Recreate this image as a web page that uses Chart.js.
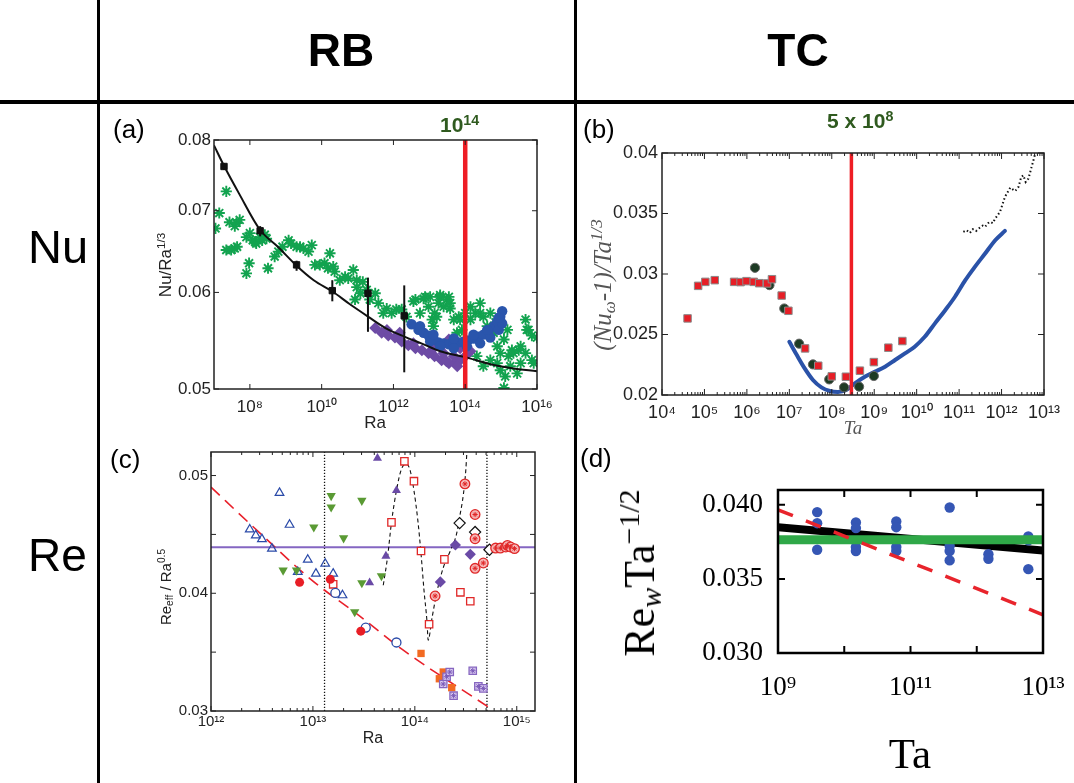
<!DOCTYPE html>
<html>
<head>
<meta charset="utf-8">
<script src="https://cdn.jsdelivr.net/npm/chart.js@4.4.1/dist/chart.umd.min.js"></script>
<style>
body { margin: 0; background: #fff; }
#page { position: relative; width: 1074px; height: 783px; overflow: hidden; background: #fff; font-family: "Liberation Sans", Arial, sans-serif; }
canvas { position: absolute; left: 0; top: 0; }
.t { position: absolute; white-space: nowrap; line-height: 1; color: #000; }
.c { transform: translateX(-50%); }
.rot { transform: translate(-50%, -50%) rotate(-90deg); }
.rule { position: absolute; background: #000; }
.serif { font-family: "Liberation Serif", "Times New Roman", serif; }
sup { font-size: 0.68em; vertical-align: 0.5em; line-height: 0; }
sub { font-size: 0.68em; vertical-align: -0.25em; line-height: 0; }
.mark { font-weight: bold; color: #2f5a1f; font-size: 21px; }
</style>
</head>
<body>
<div id="page">
  <div class="rule" style="left:97px;top:0;width:3px;height:783px"></div>
  <div class="rule" style="left:574px;top:0;width:3px;height:783px"></div>
  <div class="rule" style="left:0;top:100px;width:1074px;height:4px"></div>

  <canvas id="chartA" width="1074" height="783"></canvas>
  <canvas id="chartB" width="1074" height="783"></canvas>
  <canvas id="chartC" width="1074" height="783"></canvas>
  <canvas id="chartD" width="1074" height="783"></canvas>

  <div class="t c" style="left:341px;top:27px;font-size:46px;font-weight:bold">RB</div>
  <div class="t c" style="left:798px;top:27px;font-size:46px;font-weight:bold">TC</div>
  <div class="t" style="left:28px;top:223px;font-size:47px">Nu</div>
  <div class="t" style="left:28px;top:532px;font-size:46px">Re</div>

  <div class="t" style="left:113px;top:116px;font-size:26px">(a)</div>
  <div class="t" style="left:583px;top:116px;font-size:26px">(b)</div>
  <div class="t" style="left:110px;top:446px;font-size:26px">(c)</div>
  <div class="t" style="left:580px;top:445px;font-size:26px">(d)</div>

  <div class="t mark" style="left:440px;top:114px">10<sup>14</sup></div>
  <div class="t mark" style="left:827px;top:110px">5 x 10<sup>8</sup></div>

  <div class="t rot" style="left:165px;top:265px;font-size:17px;color:#222">Nu/Ra<sup>1/3</sup></div>
  <div class="t c" style="left:375px;top:414px;font-size:17px;color:#222">Ra</div>

  <div class="t rot serif" style="left:602px;top:285px;font-size:25px;color:#555;font-style:italic">(Nu<sub>ω</sub>-1)/Ta<sup>1/3</sup></div>
  <div class="t c serif" style="left:853px;top:418px;font-size:19px;color:#555;font-style:italic">Ta</div>

  <div class="t rot" style="left:165px;top:587px;font-size:15px;color:#222">Re<sub>eff</sub> / Ra<sup>0.5</sup></div>
  <div class="t c" style="left:373px;top:730px;font-size:16px;color:#222">Ra</div>

  <div class="t rot serif" style="left:640px;top:573px;font-size:44px">Re<sub><i>w</i></sub>Ta<sup>−1/2</sup></div>
  <div class="t c serif" style="left:910px;top:732px;font-size:43px">Ta</div>
</div>

<script>
// ---------- (a) RB: Nu/Ra^(1/3) vs Ra ----------
const aXRange = [1e7, 1e16];
const aYRange = [0.05, 0.08];
const aXTicks = [1e8, 1e10, 1e12, 1e14, 1e16];
const aYTicks = [0.05, 0.06, 0.07, 0.08];
const aMarkRa = 1e14;

const aSqRa = [1.9e7, 1.93e8, 2.0e9, 1.98e10, 1.95e11, 2.0e12];
const aSqNu = [0.0761, 0.0674, 0.0632, 0.0602, 0.0599, 0.0574];
const aErrLo = [0.0756, 0.0667, 0.0625, 0.0590, 0.0557, 0.0516];
const aErrHi = [0.0766, 0.0680, 0.0637, 0.0614, 0.0617, 0.0608];

const aFitRa = [1e7, 1.9e7, 5e7, 1.93e8, 6e8, 2e9, 6e9, 2e10, 6e10, 2e11, 6e11, 2e12, 6e12, 2e13, 1e14, 5e14, 2e15, 1e16];
const aFitNu = [0.0792, 0.0762, 0.0723, 0.0675, 0.0654, 0.0631, 0.0614, 0.0601, 0.0587, 0.0573, 0.0561, 0.0552, 0.0545, 0.0537, 0.0531, 0.0524, 0.0520, 0.0517];

const aGreen = [
  [1.1e7,0.0677],[1.4e7,0.0697],[2.2e7,0.0726],[2.2e7,0.0650],[2.7e7,0.0685],[3.8e7,0.0680],[4.2e7,0.0684],
  [5.2e7,0.0688],[3.8e7,0.0652],[4.4e7,0.0654],[3.0e7,0.0650],[8.0e7,0.0666],[9.5e7,0.0634],[8.0e7,0.0622],
  [1.0e8,0.0671],[1.2e8,0.0662],[1.4e8,0.0660],[1.5e8,0.0658],[1.9e8,0.0666],[2.2e8,0.0662],[2.6e8,0.0669],
  [2.9e8,0.0664],[3.2e8,0.0628],[4.9e8,0.0642],[6.2e8,0.0648],[8.1e8,0.0654],[1.2e9,0.0662],[1.4e9,0.0658],
  [2.0e9,0.0654],[2.5e9,0.0654],[3.1e9,0.0652],[4.3e9,0.0648],[5.3e9,0.0656],[6.5e9,0.0632],[8.9e9,0.0632],
  [1.2e10,0.0634],[1.7e10,0.0646],[1.5e10,0.0628],[2.1e10,0.0630],[2.3e10,0.0624],[3.2e10,0.0614],[4.5e10,0.0618],
  [5.5e10,0.0616],[7.6e10,0.0626],[9.5e10,0.0614],[9.5e10,0.0606],[8.5e10,0.0592],[1.2e11,0.0599],[1.4e11,0.0612],
  [1.8e11,0.0603],[2.2e11,0.0592],[3.1e11,0.0599],[3.8e11,0.0588],[5.2e11,0.0577],[6.5e11,0.0582],[8.9e11,0.0577],
  [1.2e12,0.0581],[1.7e12,0.0581],[2.3e12,0.0573],[3.6e12,0.0590],[4.1e12,0.0592],[5.5e12,0.0577],[6.9e12,0.0593],
  [7.6e12,0.0595],[9.5e12,0.0584],[1.05e13,0.0595],[1.2e13,0.0570],[1.3e13,0.0563],[1.4e13,0.0577],[1.6e13,0.0573],
  [1.8e13,0.0588],[2.0e13,0.0595],[2.0e13,0.0597],[2.5e13,0.0584],[3.1e13,0.0592],[3.5e13,0.0595],[3.8e13,0.0588],
  [3.8e13,0.0582],[4.8e13,0.0570],[5.9e13,0.0556],[6.6e13,0.0573],[7.2e13,0.0570],[8.1e13,0.0559],[1.0e14,0.0577],
  [1.4e14,0.0584],[1.4e14,0.0570],[1.9e14,0.0577],[2.1e14,0.0532],[2.6e14,0.0588],[2.6e14,0.0577],[3.2e14,0.0573],
  [3.2e14,0.0522],[4.1e14,0.0563],[5.0e14,0.0577],[5.0e14,0.0528],[6.2e14,0.0556],[7.0e14,0.0567],[7.8e14,0.0542],
  [7.8e14,0.0525],[9.5e14,0.0535],[9.5e14,0.0518],[1.2e15,0.0549],[1.2e15,0.0501],[1.3e15,0.0512],[1.5e15,0.0559],
  [1.6e15,0.0532],[1.8e15,0.0522],[2.0e15,0.0538],[2.2e15,0.0535],[2.8e15,0.0515],[3.1e15,0.0538],[3.5e15,0.0542],
  [3.5e15,0.0525],[4.8e15,0.0570],[4.8e15,0.0535],[5.2e15,0.0559],[5.8e15,0.0559],[7.2e15,0.0553],[7.2e15,0.0528],
  [8.1e15,0.0525],[1.0e16,0.0551]
];
const aBlue = [
  [3.2e12,0.0565],[5.0e12,0.0559],[6.9e12,0.0556],[9.5e12,0.0553],[1.3e13,0.0549],[1.8e13,0.0546],[2.5e13,0.0545],
  [3.5e13,0.0544],[4.8e13,0.0545],[6.6e13,0.0546],[9.1e13,0.0547],[1.2e14,0.0548],[1.7e14,0.0550],[2.3e14,0.0552],
  [3.2e14,0.0554],[4.5e14,0.0558],[6.2e14,0.0563],[7.8e14,0.0568],[9.5e14,0.0573],[1.07e15,0.0579],[1.05e13,0.0547],
  [2.0e13,0.0542],[4.8e13,0.0540],[1.1e14,0.0542],[2.6e14,0.0545],[5.0e14,0.0551],[8.6e14,0.0559],[1.07e15,0.0566],
  [5.5e12,0.0563],[1.3e13,0.0554],[4.8e13,0.0550],[1.7e14,0.0554],[4.1e14,0.0559],[8.6e14,0.0572]
];
const aPurple = [
  [3.1e11,0.0561],[4.7e11,0.0556],[7.2e11,0.0553],[1.1e12,0.0551],[1.7e12,0.0547],[2.6e12,0.0543],[4.1e12,0.0540],
  [6.2e12,0.0538],[9.5e12,0.0535],[1.4e13,0.0532],[2.2e13,0.0528],[3.5e13,0.0525],[5.2e13,0.0525],[7.2e13,0.0528],
  [3.5e13,0.0549],[4.8e13,0.0545],[7.2e13,0.0540],[1.1e14,0.0542],[1.4e14,0.0537],[1.0e14,0.0532],[6.6e11,0.0559],
  [1.5e12,0.0556],[3.6e12,0.0545],[1.3e13,0.0540],[2.5e13,0.0535],[4.8e13,0.0532],[6.0e13,0.0522],[3.0e13,0.0527]
];

// ---------- (b) TC: (Nu_w-1)/Ta^(1/3) vs Ta ----------
const bXRange = [1e4, 1e13];
const bYRange = [0.02, 0.04];
const bXTicks = [1e4, 1e5, 1e6, 1e7, 1e8, 1e9, 1e10, 1e11, 1e12, 1e13];
const bYTicks = [0.02, 0.025, 0.03, 0.035, 0.04];
const bMarkTa = 2.9e8;

const bSqTa = [4.0e4, 7.1e4, 1.05e5, 1.75e5, 5.0e5, 7.1e5, 9.8e5, 1.45e6, 1.95e6, 3.0e6, 3.9e6, 6.6e6, 9.5e6, 2.35e7, 4.8e7, 1.0e8, 2.15e8, 4.6e8, 9.8e8, 2.15e9, 4.6e9];
const bSqNu = [0.02633, 0.02902, 0.02935, 0.02949, 0.02935, 0.02933, 0.02941, 0.02935, 0.02924, 0.02922, 0.02957, 0.02822, 0.02696, 0.02385, 0.02242, 0.02154, 0.02151, 0.02201, 0.02272, 0.02391, 0.02446];
const bCircTa = [1.55e6, 3.4e6, 7.6e6, 1.7e7, 3.6e7, 8.7e7, 1.95e8, 4.4e8, 9.8e8];
const bCircNu = [0.03051, 0.02908, 0.02715, 0.02424, 0.02253, 0.02129, 0.02063, 0.02069, 0.02157];
const bBlue = [
  [1.0e7,0.0244],[1.5e7,0.0233],[2.3e7,0.0222],[3.6e7,0.02124],[5.7e7,0.02063],[9.0e7,0.02033],[1.4e8,0.02025],
  [2.2e8,0.02041],[3.5e8,0.02096],[6.0e8,0.02151],[1.05e9,0.02193],[1.8e9,0.02234],[3.1e9,0.02289],[5.3e9,0.02344],
  [9.0e9,0.02399],[1.55e10,0.02481],[2.7e10,0.02592],[4.7e10,0.02701],[8.0e10,0.02812],[1.4e11,0.02949],
  [2.35e11,0.03059],[4.1e11,0.03169],[7.1e11,0.03279],[1.2e12,0.03356]
];
const bDots = [
  [1.26e11,0.03348],[1.5e11,0.03362],[1.8e11,0.03340],[2.1e11,0.03370],[2.5e11,0.03355],[3.1e11,0.03384],
  [3.6e11,0.03400],[4.1e11,0.03390],[4.8e11,0.03420],[5.4e11,0.03431],[6.2e11,0.03420],[7.1e11,0.03458],
  [9.2e11,0.03513],[1.2e12,0.03637],[1.6e12,0.03714],[2.1e12,0.03686],[2.5e12,0.03719],[2.9e12,0.03800],
  [3.25e12,0.03816],[3.7e12,0.03760],[4.3e12,0.03788],[5.1e12,0.03884],[6.2e12,0.03994]
];

// ---------- (c) RB: Re_eff/Ra^0.5 vs Ra ----------
const cXRange = [1e12, 1.51e15];
const cYRange = [0.03, 0.052];
const cXTicks = [1e12, 1e13, 1e14, 1e15];
const cYTicks = [0.03, 0.04, 0.05];
const cYMarks = [0.03, 0.035, 0.04, 0.045, 0.05];
const cDotRa = [1.3e13, 5.1e14];
const cLevel = 0.0439;

const cTriBlue = [[2.4e12,0.04542],[2.75e12,0.04492],[3.16e12,0.04460],[3.96e12,0.04379],[4.7e12,0.04853],[5.9e12,0.04582],[7.1e12,0.04181],[8.9e12,0.04285],[1.07e13,0.04167],[1.32e13,0.04251],[1.58e13,0.04167],[1.95e13,0.03983]];
const cTriGreen = [[5.1e12,0.04195],[6.9e12,0.04195],[1.02e13,0.04562],[1.51e13,0.04828],[1.51e13,0.04732],[2.0e13,0.04469],[2.57e13,0.03842],[3.02e13,0.04788],[3.02e13,0.04088],[4.7e13,0.04147]];
const cTriPurple = [[3.6e13,0.04090],[4.3e13,0.05147],[5.2e13,0.04316],[6.6e13,0.04873]];
const cDiaPurple = [[1.78e14,0.04096],[2.5e14,0.04410],[3.5e14,0.04331]];
const cDiaOpen = [[2.75e14,0.04596],[3.9e14,0.04520],[5.4e14,0.04370]];
const cSqOpen = [[1.58e13,0.04076],[5.9e13,0.04602],[7.9e13,0.05121],[9.8e13,0.04952],[1.15e14,0.04359],[1.38e14,0.03737],[1.95e14,0.04288],[2.8e14,0.04008],[3.5e14,0.03932]];
const cCircStar = [[1.58e14,0.03977],[3.1e14,0.04929],[3.9e14,0.04669],[3.9e14,0.04463],[3.9e14,0.04212],[4.7e14,0.04257],[6.2e14,0.04384],[6.9e14,0.04384],[7.8e14,0.04393],[8.1e14,0.04407],[8.7e14,0.04393],[9.5e14,0.04379]];
const cCircRed = [[7.4e12,0.04093],[1.48e13,0.04119],[2.95e13,0.03678]];
const cCircOpen = [[1.66e13,0.04003],[3.3e13,0.03709],[6.6e13,0.03582]];
const cSqOrange = [[1.15e14,0.03489],[1.74e14,0.03274],[1.9e14,0.03331],[2.3e14,0.03198]];
const cSqStar = [[1.9e14,0.03229],[2.05e14,0.03291],[2.2e14,0.03331],[2.4e14,0.03130],[3.7e14,0.03342],[4.2e14,0.03209],[4.7e14,0.03192]];
const cCurve = [
  [4.9e13,0.04068],[5.4e13,0.04308],[5.9e13,0.04602],[6.6e13,0.04873],[7.4e13,0.05056],[8.3e13,0.05099],[9.0e13,0.05042],
  [9.8e13,0.04873],[1.07e14,0.04619],[1.15e14,0.04336],[1.23e14,0.04025],[1.32e14,0.03743],[1.35e14,0.03602],
  [1.48e14,0.03799],[1.66e14,0.04025],[1.91e14,0.04223],[2.24e14,0.04364],[2.57e14,0.04506],[2.75e14,0.04647],
  [3.0e14,0.04845],[3.16e14,0.05042],[3.24e14,0.05198]
];
const cRedLine = [[1.0e12,0.04901],[2.72e12,0.04548],[9.8e12,0.04110],[2.8e13,0.03814],[7.7e13,0.03517],[5.5e14,0.03023]];

// ---------- (d) TC: Re_w Ta^(-1/2) vs Ta ----------
const dXRange = [1e9, 1e13];
const dYRange = [0.030, 0.041];
const dXTicks = [1e9, 1e11, 1e13];
const dXMarks = [1e9, 1e10, 1e11, 1e12, 1e13];
const dYTicks = [0.030, 0.035, 0.040];
const dTa = [3.9e9, 3.9e9, 3.9e9, 1.5e10, 1.5e10, 1.5e10, 1.5e10, 6.1e10, 6.1e10, 6.1e10, 6.1e10, 3.9e11, 3.9e11, 3.9e11, 3.9e11, 1.5e12, 1.5e12, 6.0e12, 6.0e12, 6.0e12];
const dRe = [0.03951, 0.03876, 0.03697, 0.03881, 0.03843, 0.03715, 0.03688, 0.03888, 0.03849, 0.03715, 0.03688, 0.03982, 0.03724, 0.03688, 0.03625, 0.03667, 0.03636, 0.03787, 0.03760, 0.03566];
const dBlackFit = [[1e9, 0.03849], [1e13, 0.03692]];
const dGreenFit = [[1e9, 0.03764], [1e13, 0.03764]];
const dRedFit = [[1e9, 0.03966], [1e13, 0.03258]];

// ---------- helpers ----------
const W = 1074, H = 783, YW = 80;
const SUP = {"0":"⁰","1":"¹","2":"²","3":"³","4":"⁴","5":"⁵","6":"⁶","7":"⁷","8":"⁸","9":"⁹","-":"⁻"};

function pow10Label(v) {
  const e = Math.round(Math.log10(v));
  return "10" + String(e).split("").map(c => SUP[c]).join("");
}
function pts(xs, ys) { return xs.map((x, i) => ({ x: x, y: ys[i] })); }
function pairs(arr) { return arr.map(p => ({ x: p[0], y: p[1] })); }
function line(data, color, width, dash) {
  return { data: data, showLine: true, borderColor: color, borderWidth: width, borderDash: dash || [], pointRadius: 0, fill: false, tension: 0 };
}
function marks(data, style, r, fill, stroke, bw, rot) {
  return { data: data, pointStyle: style, pointRadius: r, backgroundColor: fill, borderColor: stroke, borderWidth: bw, rotation: rot || 0 };
}

// box + inward ticks on all four sides
const framePlugin = {
  id: "frame",
  afterDatasetsDraw(chart, args, o) {
    const ctx = chart.ctx, a = chart.chartArea;
    const xs = chart.scales.x, ys = chart.scales.y;
    ctx.save();
    ctx.strokeStyle = o.color;
    ctx.lineWidth = o.tickWidth;
    function tick(scale, v, len) {
      const p = scale.getPixelForValue(v);
      ctx.beginPath();
      if (scale.isHorizontal()) {
        if (p < a.left - 0.5 || p > a.right + 0.5) return;
        ctx.moveTo(p, a.bottom); ctx.lineTo(p, a.bottom - len);
        ctx.moveTo(p, a.top); ctx.lineTo(p, a.top + len);
      } else {
        if (p < a.top - 0.5 || p > a.bottom + 0.5) return;
        ctx.moveTo(a.left, p); ctx.lineTo(a.left + len, p);
        ctx.moveTo(a.right, p); ctx.lineTo(a.right - len, p);
      }
      ctx.stroke();
    }
    o.xMajor.forEach(v => tick(xs, v, o.major));
    o.yMajor.forEach(v => tick(ys, v, o.major));
    if (o.xMinor) {
      const k0 = Math.floor(Math.log10(xs.min)), k1 = Math.ceil(Math.log10(xs.max));
      for (let k = k0; k <= k1; k++) {
        for (let d = 2; d <= 9; d++) tick(xs, d * Math.pow(10, k), o.minor);
      }
    }
    ctx.lineWidth = o.lw;
    ctx.strokeRect(a.left, a.top, a.right - a.left, a.bottom - a.top);
    ctx.restore();
  }
};

function axis(s, dir, xh) {
  return {
    type: s.type, min: s.min, max: s.max, position: dir === "x" ? "bottom" : "left",
    grid: { display: false, drawTicks: false },
    border: { display: false },
    afterBuildTicks: sc => { sc.ticks = s.ticks.map(v => ({ value: v })); },
    afterFit: sc => {
      if (dir === "x") sc.height = xh; else sc.width = YW;
      sc.paddingLeft = 0; sc.paddingRight = 0; sc.paddingTop = 0; sc.paddingBottom = 0;
    },
    ticks: { autoSkip: false, maxRotation: 0, minRotation: 0, padding: s.pad, color: s.color, font: s.font, callback: s.fmt }
  };
}

function makeChart(id, box, datasets, sx, sy, frame) {
  const xh = box.xh || 40;
  return new Chart(document.getElementById(id), {
    type: "scatter",
    data: { datasets: datasets },
    options: {
      responsive: false,
      animation: false,
      devicePixelRatio: 1,
      layout: { padding: { left: box.l - YW, top: box.t, right: W - box.r, bottom: H - box.b - xh } },
      plugins: { legend: { display: false }, tooltip: { enabled: false }, frame: frame },
      scales: { x: axis(sx, "x", xh), y: axis(sy, "y", xh) }
    },
    plugins: [framePlugin]
  });
}

const sans = size => ({ family: "'Liberation Sans', Arial, sans-serif", size: size });
const serif = size => ({ family: "'Liberation Serif', 'Times New Roman', serif", size: size });

// ---------- (a) ----------
makeChart("chartA", { l: 214, t: 140, r: 537, b: 389 }, [
  line([{ x: aMarkRa, y: aYRange[0] }, { x: aMarkRa, y: aYRange[1] }], "#ee1d25", 4.5),
  ...aSqRa.map((r, i) => line([{ x: r, y: aErrLo[i] }, { x: r, y: aErrHi[i] }], "#111", 2)),
  marks(pts(aSqRa, aSqNu), "rect", 4.5, "#111", "#111", 1),
  Object.assign(line(pts(aFitRa, aFitNu), "#111", 2), { cubicInterpolationMode: "monotone" }),
  marks(pairs(aBlue), "circle", 5.2, "#2a55ac", "#2a55ac", 0),
  marks(pairs(aPurple), "rectRot", 6, "#6d4ba5", "#6d4ba5", 0),
  marks(pairs(aGreen), "star", 5.6, "rgba(0,0,0,0)", "#12a34f", 1.9)
],
  { type: "logarithmic", min: aXRange[0], max: aXRange[1], ticks: aXTicks, pad: 8, color: "#222", font: sans(17), fmt: v => pow10Label(v) },
  { type: "logarithmic", min: aYRange[0], max: aYRange[1], ticks: aYTicks, pad: 3, color: "#222", font: sans(17), fmt: v => v.toFixed(2) },
  { color: "#222", lw: 1.5, tickWidth: 1, major: 5, minor: 3, xMajor: aXTicks, yMajor: aYTicks, xMinor: false });

// ---------- (b) ----------
makeChart("chartB", { l: 662, t: 153, r: 1044, b: 395 }, [
  line([{ x: bMarkTa, y: bYRange[0] }, { x: bMarkTa, y: bYRange[1] }], "#ee1d25", 3.5),
  marks(pts(bSqTa, bSqNu), "rect", 5.3, "#e61e26", "#8a8a8a", 1),
  marks(pts(bCircTa, bCircNu), "circle", 4.6, "#1d3b24", "#666", 1),
  Object.assign(line(pairs(bBlue), "#2a52a8", 4), { cubicInterpolationMode: "monotone", borderCapStyle: "round" }),
  line(pairs(bDots), "#111", 2, [1.5, 2.5])
],
  { type: "logarithmic", min: bXRange[0], max: bXRange[1], ticks: bXTicks, pad: 7, color: "#222", font: sans(18), fmt: v => pow10Label(v) },
  { type: "linear", min: bYRange[0], max: bYRange[1], ticks: bYTicks, pad: 4, color: "#222", font: sans(18), fmt: v => String(+v.toFixed(3)) },
  { color: "#222", lw: 1.5, tickWidth: 1, major: 6, minor: 3, xMajor: bXTicks, yMajor: bYTicks, xMinor: true });

// ---------- (c) ----------
makeChart("chartC", { l: 211, t: 452, r: 535, b: 711 }, [
  marks(pairs(cCircStar), "star", 2.6, "#e02828", "#e02828", 1),
  marks(pairs(cSqStar), "star", 2.8, "#7a5ab8", "#7a5ab8", 1),
  marks(pairs(cCircStar), "circle", 4.8, "#f6b8b8", "#e02828", 1.3),
  marks(pairs(cSqStar), "rect", 5.2, "#dccdf2", "#8666c0", 1.3),
  marks(pairs(cSqOrange), "rect", 5.2, "#f26a22", "#f26a22", 0),
  marks(pairs(cCircRed), "circle", 4.5, "#e81e26", "#e81e26", 0),
  marks(pairs(cCircOpen), "circle", 4.5, "#fff", "#2a4aa8", 1.3),
  marks(pairs(cSqOpen), "rect", 5.2, "#fff", "#e02828", 1.3),
  marks(pairs(cDiaOpen), "rectRot", 5.6, "#fff", "#111", 1.2),
  marks(pairs(cDiaPurple), "rectRot", 5.6, "#6a4aa6", "#6a4aa6", 0),
  marks(pairs(cTriPurple), "triangle", 5.2, "#6a4aa6", "#6a4aa6", 0),
  marks(pairs(cTriGreen), "triangle", 5.4, "#5a9a34", "#5a9a34", 0, 180),
  marks(pairs(cTriBlue), "triangle", 5, "rgba(255,255,255,0)", "#2a4aa8", 1.2),
  Object.assign(line(pairs(cCurve), "#111", 1.1, [4, 3]), { cubicInterpolationMode: "monotone" }),
  Object.assign(line(pairs(cRedLine), "#e8202a", 1.6, [12, 7]), { cubicInterpolationMode: "monotone" }),
  line([{ x: cXRange[0], y: cLevel }, { x: cXRange[1], y: cLevel }], "#8466c2", 2),
  ...cDotRa.map(r => line([{ x: r, y: cYRange[0] }, { x: r, y: cYRange[1] }], "#111", 1.3, [1.3, 1.7]))
],
  { type: "logarithmic", min: cXRange[0], max: cXRange[1], ticks: cXTicks, pad: 2, color: "#222", font: sans(15), fmt: v => pow10Label(v) },
  { type: "linear", min: cYRange[0], max: cYRange[1], ticks: cYTicks, pad: 3, color: "#222", font: sans(15), fmt: v => v.toFixed(2) },
  { color: "#222", lw: 1.5, tickWidth: 1, major: 5, minor: 3, xMajor: cXTicks, yMajor: cYMarks, xMinor: true });

// ---------- (d) ----------
makeChart("chartD", { l: 778, t: 490, r: 1043, b: 653, xh: 75 }, [
  line(pairs(dRedFit), "#e8242c", 3.5, [16, 14]),
  line(pairs(dGreenFit), "#2fa848", 9),
  marks(pts(dTa, dRe), "circle", 5.2, "#3556b4", "#3556b4", 0),
  line(pairs(dBlackFit), "#000", 8)
],
  { type: "logarithmic", min: dXRange[0], max: dXRange[1], ticks: dXTicks, pad: 19, color: "#000", font: serif(27), fmt: v => pow10Label(v) },
  { type: "linear", min: dYRange[0], max: dYRange[1], ticks: dYTicks, pad: 15, color: "#000", font: serif(27), fmt: v => v.toFixed(3) },
  { color: "#000", lw: 2.5, tickWidth: 2, major: 7, minor: 0, xMajor: dXMarks, yMajor: dYTicks, xMinor: false });
</script>
</body>
</html>
